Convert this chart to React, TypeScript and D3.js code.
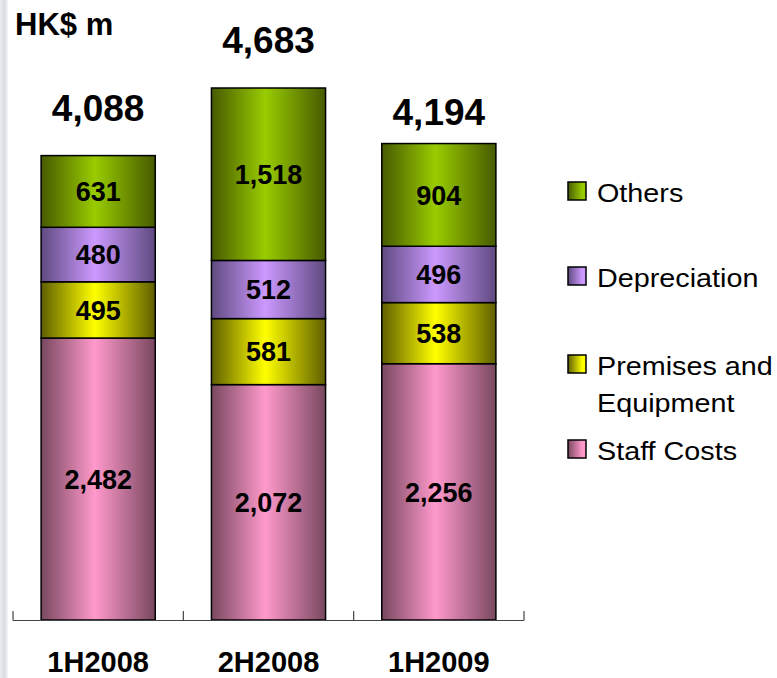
import React from "react";
import * as d3 from "d3";

// Operating expenses by half-year, HK$ million
const periods = ["1H2008", "2H2008", "1H2009"];
const staffCosts = [2482, 2072, 2256];
const premisesEquipment = [495, 581, 538];
const depreciation = [480, 512, 496];
const others = [631, 1518, 904];
const totals = [4088, 4683, 4194];

const seriesNames = ["Staff Costs", "Premises and Equipment", "Depreciation", "Others"];
const seriesValues = [staffCosts, premisesEquipment, depreciation, others];

// Shading: [edge, highlight]
const seriesColors: [string, string][] = [
  ["#78485f", "#ff99cc"],
  ["#5e5e00", "#ffff00"],
  ["#5f4a80", "#cc99ff"],
  ["#475a00", "#99cc00"],
];

// Vertical gap between each bar top and its total label baseline
const totalLabelGap = [35, 35, 19];

const W = 777;
const H = 678;
const baseY = 620;
const FONT = "'Liberation Sans', Arial, Helvetica, sans-serif";

export default function App() {
  const x = d3
    .scaleBand<string>()
    .domain(periods)
    .range([13, 524])
    .paddingInner(0.33)
    .paddingOuter(0.165);
  const y = d3.scaleLinear().domain([0, d3.max(totals)!]).range([baseY, 88]);

  const rows = periods.map((p, i) => {
    const r: any = { period: p };
    seriesNames.forEach((s, j) => (r[s] = seriesValues[j][i]));
    return r;
  });
  const stacked = d3.stack<any>().keys(seriesNames)(rows);

  const step = x.step();
  const tickXs = d3.range(periods.length + 1).map((i) => x.range()[0] + i * step);

  // Legend listed top to bottom: Others, Depreciation, Premises, Staff
  const legendItems = [
    { idx: 3, lines: ["Others"], sq: 182 },
    { idx: 2, lines: ["Depreciation"], sq: 267 },
    { idx: 1, lines: ["Premises and", "Equipment"], sq: 355 },
    { idx: 0, lines: ["Staff Costs"], sq: 440 },
  ];

  return (
    <svg
      width={W}
      height={H}
      style={{ position: "absolute", left: 0, top: 0, background: "#fff" }}
      fontFamily={FONT}
    >
      <defs>
        {seriesColors.map(([edge, hi], j) => (
          <linearGradient key={j} id={`bar-grad-${j}`} x1="0" x2="1" y1="0" y2="0">
            <stop offset="0" stopColor={edge} />
            <stop offset="0.47" stopColor={hi} />
            <stop offset="1" stopColor={edge} />
          </linearGradient>
        ))}
        {seriesColors.map(([edge, hi], j) => (
          <linearGradient key={j} id={`leg-grad-${j}`} x1="0" x2="1" y1="0" y2="0">
            <stop offset="0" stopColor={edge} />
            <stop offset="0.8" stopColor={hi} />
            <stop offset="1" stopColor={hi} />
          </linearGradient>
        ))}
        <linearGradient id="side-strip" x1="0" x2="1" y1="0" y2="0">
          <stop offset="0" stopColor="#ececf0" />
          <stop offset="0.55" stopColor="#d9dbe0" />
          <stop offset="1" stopColor="#f4f4f7" />
        </linearGradient>
      </defs>

      <rect x={0} y={0} width={W} height={H} fill="#fff" />
      <rect x={0} y={0} width={8} height={H} fill="url(#side-strip)" />

      {/* unit caption */}
      <text x={15} y={35} fontSize={31} fontWeight="bold" fill="#000">
        HK$ m
      </text>

      {/* stacked bars */}
      {stacked.map((layer, j) =>
        layer.map((d, i) => {
          const x0 = x(periods[i])!;
          const yTop = y(d[1]);
          const yBot = y(d[0]);
          return (
            <g key={`${j}-${i}`}>
              <rect
                x={x0}
                y={yTop}
                width={x.bandwidth()}
                height={yBot - yTop}
                fill={`url(#bar-grad-${j})`}
                stroke="#000"
                strokeWidth={1.5}
              />
              <text
                x={x0 + x.bandwidth() / 2}
                y={(yTop + yBot) / 2}
                dy="0.36em"
                textAnchor="middle"
                fontSize={27}
                fontWeight="bold"
                fill="#000"
              >
                {d3.format(",")(d[1] - d[0])}
              </text>
            </g>
          );
        })
      )}

      {/* totals */}
      {totals.map((t, i) => (
        <text
          key={i}
          x={x(periods[i])! + x.bandwidth() / 2}
          y={y(t) - totalLabelGap[i]}
          textAnchor="middle"
          fontSize={37}
          fontWeight="bold"
          fill="#000"
        >
          {d3.format(",")(t)}
        </text>
      ))}

      {/* category axis */}
      <line x1={tickXs[0]} x2={tickXs[tickXs.length - 1]} y1={baseY + 0.5} y2={baseY + 0.5} stroke="#444" strokeWidth={1.2} />
      {tickXs.map((tx, i) => (
        <line key={i} x1={tx} x2={tx} y1={baseY - 9} y2={baseY + 0.5} stroke="#444" strokeWidth={1.2} />
      ))}
      {periods.map((p) => (
        <text
          key={p}
          x={x(p)! + x.bandwidth() / 2}
          y={672}
          textAnchor="middle"
          fontSize={29}
          fontWeight="bold"
          fill="#000"
        >
          {p}
        </text>
      ))}

      {/* legend */}
      {legendItems.map((item) => (
        <g key={item.idx}>
          <rect
            x={568}
            y={item.sq}
            width={18}
            height={18}
            fill={`url(#leg-grad-${item.idx})`}
            stroke="#000"
            strokeWidth={1.5}
          />
          {item.lines.map((ln, k) => (
            <text
              key={k}
              transform={`translate(597, ${item.sq + 20 + k * 37}) scale(1.15, 1)`}
              fontSize={25}
              fill="#000"
            >
              {ln}
            </text>
          ))}
        </g>
      ))}
    </svg>
  );
}
